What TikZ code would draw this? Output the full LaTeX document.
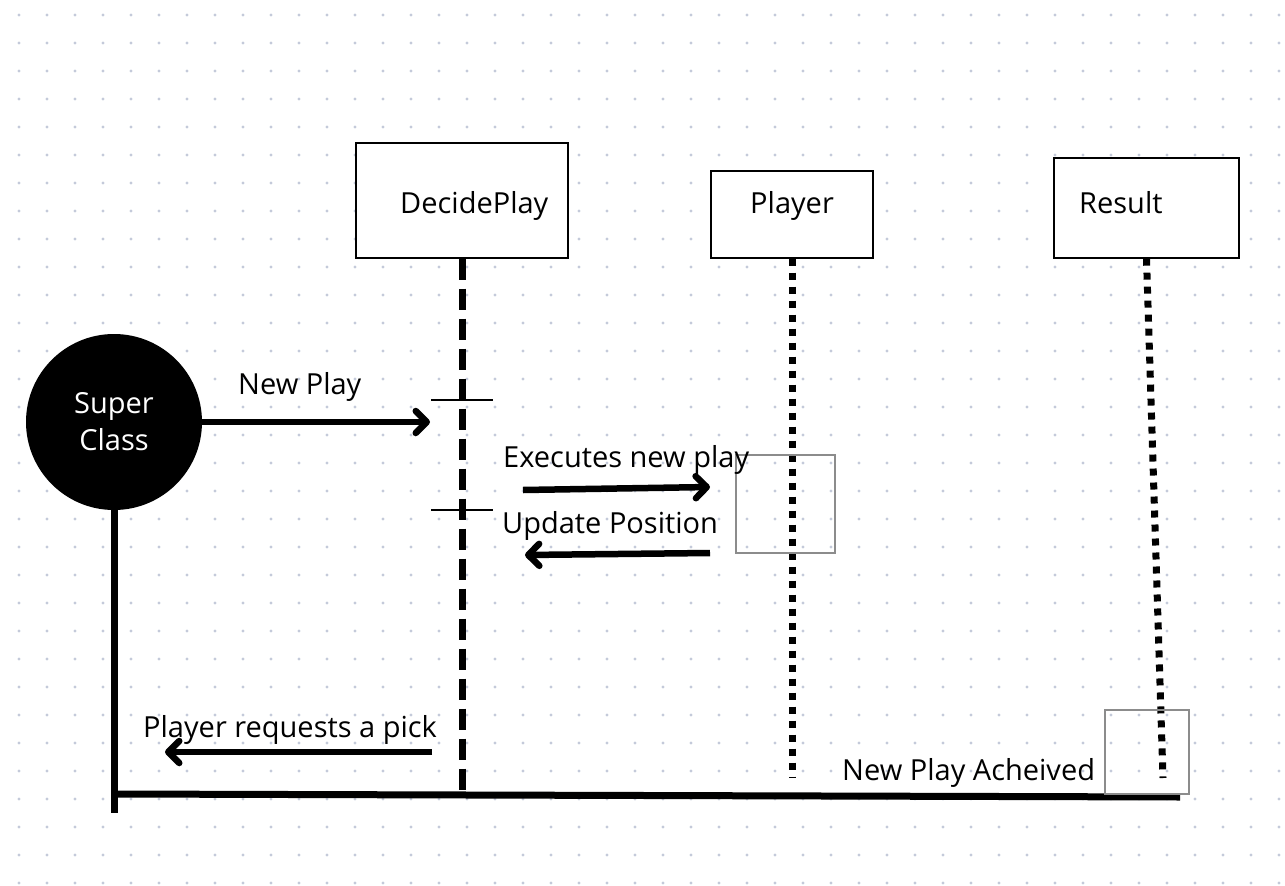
\documentclass[tikz,border=0pt]{standalone}
\usepackage{fontspec}
\setmainfont{Open Sans}
\usetikzlibrary{arrows.meta}
\definecolor{griddot}{RGB}{196,202,218}
\definecolor{actgray}{RGB}{140,140,140}
\tikzset{
  box/.style={draw,fill=white,line width=1.3pt,inner sep=0pt},
  lbl/.style={font=\fontsize{29}{37}\selectfont,inner sep=0pt,anchor=base west},
  msg/.style={line width=6.5pt,-{Straight Barb[length=11pt,width=22pt,line cap=round,line join=round]}},
  life/.style={line width=7pt},
  act/.style={draw=actgray,line width=1.2pt}
}
\begin{document}
\begin{tikzpicture}[x=1pt,y=-1pt]
  \useasboundingbox (0,0) rectangle (1285,886);
  \foreach \i in {0,...,45}
    \foreach \j in {0,...,31}
      \fill[griddot] ({19+28*\i},{15+28*\j}) circle (1.7pt);
  \node[box,minimum width=212pt,minimum height=115pt] (decide) at (462,200.5) {};
  \node[box,minimum width=162pt,minimum height=87pt] (player) at (792,214.5) {};
  \node[box,minimum width=185pt,minimum height=100pt] (result) at (1146.5,208) {};
  \node[lbl] (decidename) at (400,213) {DecidePlay};
  \node[lbl] (playername) at (750,213) {Player};
  \node[lbl] (resultname) at (1079,213) {Result};
  \node[circle,fill=black,minimum size=176pt,text=white,align=center,
    font=\fontsize{29}{37}\selectfont] (super) at (114,422) {Super\\Class};
  \coordinate (decideend) at (462,790);
  \coordinate (playerend) at (792,778);
  \coordinate (resultend) at (1163,778);
  \coordinate (superend) at (114,813);
  \coordinate (newplayend) at (430,422);
  \coordinate (execstart) at (523,490);
  \coordinate (execend) at (710,487);
  \coordinate (updstart) at (710,553);
  \coordinate (updend) at (525,555);
  \coordinate (reqstart) at (432,752);
  \coordinate (reqend) at (165,752);
  \coordinate (donestart) at (1180,797);
  \coordinate (doneend) at (114,794);
  \begin{scope}[life]
    \draw[dash pattern=on 21pt off 9pt] (decide.south) -- (decideend);
    \draw[dash pattern=on 7pt off 7pt] (player.south) -- (playerend);
    \draw[dash pattern=on 7pt off 7pt] (result.south) -- (resultend);
    \draw (super.south) -- (superend);
    \draw (donestart) -- (doneend);
  \end{scope}
  \draw[line width=1.3pt] (431,400) -- (493,400);
  \draw[line width=1.3pt] (431,510) -- (493,510);
  \draw[act] (736,455) rectangle (835,553);
  \draw[act] (1105,710) rectangle (1189,794);
  \begin{scope}[msg]
    \draw (super.east) -- (newplayend);
    \draw (execstart) -- (execend);
    \draw (updstart) -- (updend);
    \draw (reqstart) -- (reqend);
  \end{scope}
  \node[lbl] (newplay) at (238,394) {New Play};
  \node[lbl] (exec) at (503,467) {Executes new play};
  \node[lbl] (upd) at (502,533) {Update Position};
  \node[lbl] (req) at (143,737) {Player requests a pick};
  \node[lbl] (done) at (842,780) {New Play Acheived};
\end{tikzpicture}
\end{document}
